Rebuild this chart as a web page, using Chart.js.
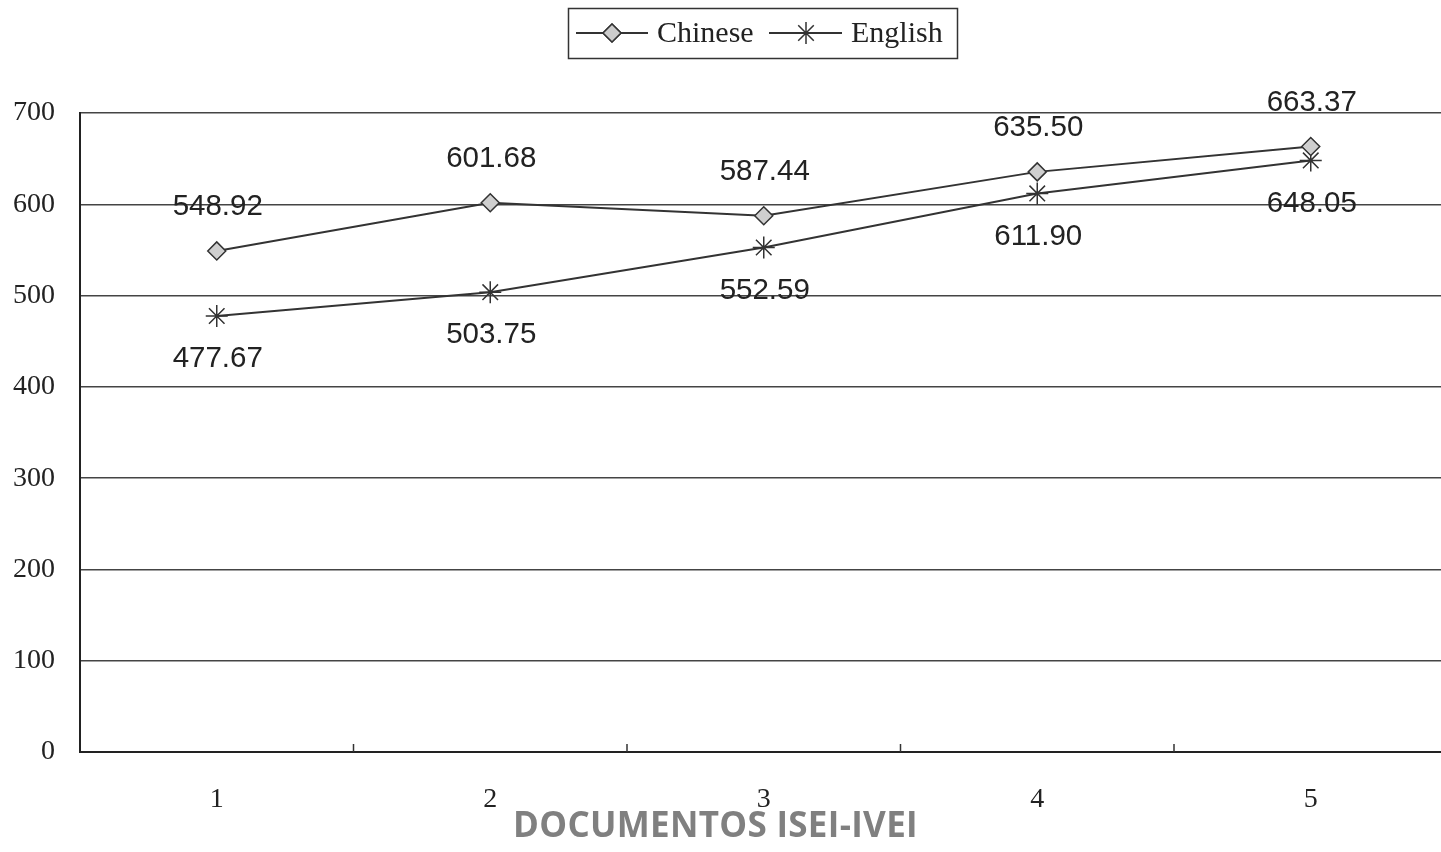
<!DOCTYPE html>
<html>
<head>
<meta charset="utf-8">
<script src="https://cdn.jsdelivr.net/npm/chart.js@4.4.1/dist/chart.umd.min.js"></script>
<style>
  html, body { margin: 0; padding: 0; background: #fff; overflow: hidden; }
  #wrap { position: relative; width: 1441px; height: 852px; }
  #box { position: absolute; left: 0; top: 0; width: 1441px; height: 852px; }
  #mark {
    position: absolute; left: 0; width: 1431px; top: 800px;
    text-align: center; font: bold 35px "Open Sans", sans-serif; color: #808080;
    letter-spacing: 0.3px;
  }
</style>
</head>
<body>
<div id="wrap">
  <div id="box"><canvas id="chart"></canvas></div>
  <div id="mark">DOCUMENTOS ISEI-IVEI</div>
</div>
<script>
const categories = ['1', '2', '3', '4', '5']
const chinese = [548.92, 601.68, 587.44, 635.50, 663.37]
const english = [477.67, 503.75, 552.59, 611.90, 648.05]
const yTicks = [0, 100, 200, 300, 400, 500, 600, 700]

const ink = '#333'

// the plot runs a little past the right edge of the page, as in the scan
const widenPlot = {
  id: 'widenPlot',
  afterLayout(chart) {
    const area = chart.chartArea
    const x = chart.scales.x
    area.right = 1447.5
    area.width = area.right - area.left
    x.right = area.right
    x.width = area.width
    x.configure()
  }
}

// value labels: Chinese above the point, English below
const valueLabels = {
  id: 'valueLabels',
  afterDatasetsDraw(chart) {
    const ctx = chart.ctx
    const shift = [-44, 43]
    ctx.save()
    ctx.font = '29.5px "Liberation Sans", Arial, sans-serif'
    ctx.fillStyle = '#222'
    ctx.textAlign = 'center'
    ctx.textBaseline = 'middle'
    chart.data.datasets.forEach((ds, i) => {
      chart.getDatasetMeta(i).data.forEach((pt, j) => {
        ctx.fillText(ds.data[j].toFixed(2), pt.x + 1, pt.y + shift[i])
      })
    })
    ctx.restore()
  }
}

// small inward ticks between categories + boxed legend
const extras = {
  id: 'extras',
  afterDraw(chart) {
    const ctx = chart.ctx
    const x = chart.scales.x
    const bottom = chart.chartArea.bottom
    ctx.save()
    ctx.strokeStyle = ink
    ctx.lineWidth = 1.5
    for (let i = 0; i < categories.length - 1; i++) {
      const bx = (x.getPixelForValue(i) + x.getPixelForValue(i + 1)) / 2
      ctx.beginPath()
      ctx.moveTo(bx, bottom)
      ctx.lineTo(bx, bottom - 8)
      ctx.stroke()
    }

    // legend
    ctx.strokeRect(568.5, 8.5, 389, 50)
    const ly = 33
    ctx.lineWidth = 2
    ctx.beginPath(); ctx.moveTo(576, ly); ctx.lineTo(648, ly); ctx.stroke()
    ctx.beginPath(); ctx.moveTo(769, ly); ctx.lineTo(842, ly); ctx.stroke()
    ctx.lineWidth = 1.5
    Chart.helpers.drawPoint(ctx, { pointStyle: 'rectRot', radius: 9, borderWidth: 1.5 }, 612, ly)
    ctx.fillStyle = '#ccc'
    ctx.fill()
    ctx.stroke()
    Chart.helpers.drawPoint(ctx, { pointStyle: 'star', radius: 11, borderWidth: 1.5 }, 806, ly)
    ctx.fillStyle = '#222'
    ctx.font = '30px "Liberation Serif", "Times New Roman", serif'
    ctx.textBaseline = 'middle'
    ctx.textAlign = 'left'
    ctx.fillText('Chinese', 657, ly + 1)
    ctx.fillText('English', 851, ly + 1)
    ctx.restore()
  }
}

new Chart(document.getElementById('chart'), {
  type: 'line',
  data: {
    labels: categories,
    datasets: [
      {
        label: 'Chinese',
        data: chinese,
        borderColor: '#333',
        borderWidth: 2,
        pointStyle: 'rectRot',
        pointRadius: 9,
        pointBackgroundColor: '#cfcfcf',
        pointBorderColor: ink,
        pointBorderWidth: 1.5,
        tension: 0
      },
      {
        label: 'English',
        data: english,
        borderColor: '#333',
        borderWidth: 2,
        pointStyle: 'star',
        pointRadius: 11,
        pointBorderColor: ink,
        pointBorderWidth: 1.5,
        tension: 0
      }
    ]
  },
  options: {
    responsive: true,
    maintainAspectRatio: false,
    animation: false,
    layout: { padding: { top: 113, right: 0, left: 0, bottom: 0 } },
    plugins: {
      legend: { display: false },
      tooltip: { enabled: false }
    },
    scales: {
      x: {
        offset: true,
        grid: { display: false, offset: true },
        border: { display: true, color: '#222', width: 2 },
        ticks: {
          color: '#222',
          padding: 23,
          font: { family: '"Liberation Serif", "Times New Roman", serif', size: 28 }
        },
        afterFit(s) { s.height = 100 }
      },
      y: {
        min: 0,
        max: 700,
        afterBuildTicks(s) { s.ticks = yTicks.map(v => ({ value: v })) },
        grid: { color: '#444', lineWidth: 1.5, drawTicks: false },
        border: { display: true, color: '#222', width: 2 },
        ticks: {
          color: '#222',
          padding: 25,
          font: { family: '"Liberation Serif", "Times New Roman", serif', size: 28 }
        },
        afterFit(s) { s.width = 80 }
      }
    }
  },
  plugins: [widenPlot, valueLabels, extras]
})
</script>
</body>
</html>
